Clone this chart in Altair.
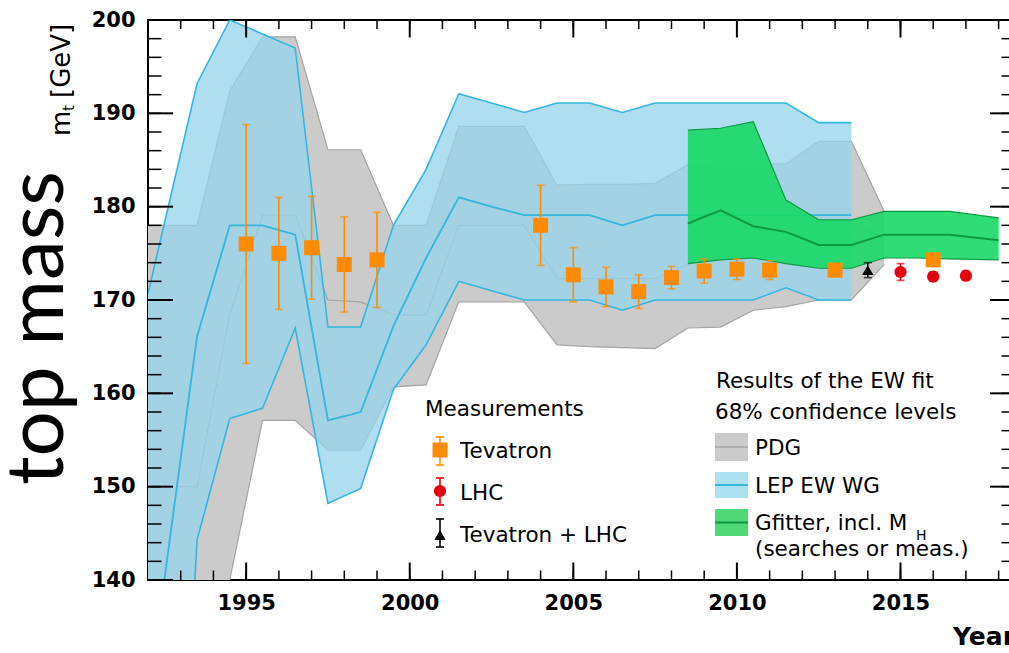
import altair as alt
import pandas as pd

# ---------------- EW fit bands (68% CL): year, upper, central, lower ----------------
pdg_year = [1992, 1993.5, 1994.5, 1995.5, 1996.5, 1997.5, 1998.5, 1999.5, 2000.5, 2001.5, 2002.5,
            2003.5, 2004.5, 2005.5, 2006.5, 2007.5, 2008.5, 2009.5, 2010.5, 2011.5, 2012.5, 2013.5, 2014.5]
pdg_hi = [178.0, 178.0, 192.4, 198.2, 198.2, 186.1, 186.1, 178.0, 178.0, 188.6, 188.6,
          188.6, 182.3, 182.4, 182.4, 182.5, 184.5, 184.6, 184.6, 184.6, 187.0, 187.0, 179.5]
pdg_mid = [150.0, 150.0, 168.5, 179.1, 179.1, 170.0, 169.8, 168.4, 168.4, 178.0, 178.0,
           178.0, 172.3, 172.3, 172.3, 172.3, 173.8, 175.0, 176.1, 177.3, 178.4, 178.2, 176.6]
pdg_lo = [120.0, 125.0, 140.0, 157.1, 157.1, 153.9, 153.9, 160.7, 160.9, 169.8, 169.8,
          169.8, 165.2, 165.0, 164.9, 164.8, 167.0, 167.1, 168.9, 169.3, 170.0, 170.0, 173.8]

lep_year = [1992, 1992.5, 1993.5, 1994.5, 1995.5, 1996.5, 1997.5, 1998.5, 1999.5, 2000.5, 2001.5,
            2002.5, 2003.5, 2004.5, 2005.5, 2006.5, 2007.5, 2008.5, 2009.5, 2010.5, 2011.5, 2012.5, 2013.5]
lep_hi = [170.7, 178.2, 193.2, 200.0, 198.5, 197.0, 167.1, 167.1, 178.0, 184.0, 192.1,
          191.1, 190.1, 191.1, 191.1, 190.1, 191.1, 191.1, 191.1, 191.1, 191.1, 189.0, 189.0]
lep_mid = [127.0, 140.0, 166.1, 178.0, 178.0, 177.0, 157.1, 158.0, 167.2, 174.5, 181.0,
           180.0, 179.1, 179.1, 179.1, 178.0, 179.1, 179.1, 179.1, 179.1, 179.1, 179.1, 179.1]
lep_lo = [60.0, 80.0, 144.3, 157.3, 158.4, 167.0, 148.2, 149.8, 160.4, 165.2, 172.0,
          171.0, 170.0, 170.0, 170.0, 168.9, 170.0, 170.0, 170.0, 170.0, 171.3, 170.0, 170.0]

gf_year = [2008.5, 2009.5, 2010.5, 2011.5, 2012.5, 2013.5, 2014.5, 2015.5, 2016.5, 2018.0]
gf_hi = [188.2, 188.4, 189.1, 180.7, 178.6, 178.6, 179.5, 179.5, 179.5, 178.8]
gf_mid = [178.2, 179.6, 177.9, 177.3, 175.9, 175.9, 177.0, 177.0, 177.0, 176.4]
gf_lo = [173.9, 174.3, 174.5, 173.9, 173.4, 173.4, 174.5, 174.5, 174.4, 174.3]

# ---------------- direct measurements ----------------
tev_year = [1995, 1996, 1997, 1998, 1999, 2004, 2005, 2006, 2007, 2008, 2009, 2010, 2011, 2013, 2016]
tev_mass = [176.0, 175.0, 175.6, 173.8, 174.3, 178.0, 172.7, 171.4, 170.9, 172.4, 173.1, 173.3, 173.2, 173.2, 174.3]
tev_err = [12.8, 6.0, 5.5, 5.1, 5.1, 4.3, 2.9, 2.1, 1.8, 1.2, 1.3, 1.1, 1.0, 0.7, 0.7]

lhc_year = [2015, 2016, 2017]
lhc_mass = [173.0, 172.5, 172.6]
lhc_err = [0.9, 0.5, 0.5]

comb_year = [2014]
comb_mass = [173.2]
comb_err = [0.8]

year_ticks = [1995, 2000, 2005, 2010, 2015]
year_minor = list(range(1993, 2019))
mass_ticks = [140, 150, 160, 170, 180, 190, 200]
mass_minor = list(range(142, 200, 2))

# ---------------- styling ----------------
LEFT, TOP, W, H = 148, 20, 867, 560
X_DOM, Y_DOM = (1992, 2018.5), (140, 200)
PX_PER_YEAR = W / (X_DOM[1] - X_DOM[0])
PX_PER_GEV = H / (Y_DOM[1] - Y_DOM[0])
ORANGE = "#ff8c00"
RED = "#e3000f"
GRAY_FILL, GRAY_LINE = "#cbcbcb", "#a4a4a4"
BLUE_FILL, BLUE_LINE = "#94d3eb", "#36b5de"
GREEN_FILL, GREEN_LINE = "#18d866", "#0c9a40"
FONT = "DejaVu Sans"

xs = alt.Scale(domain=list(X_DOM), nice=False, zero=False)
ys = alt.Scale(domain=list(Y_DOM), nice=False, zero=False)


def X(f):
    return alt.X(f"{f}:Q", scale=xs, axis=None)


def Y(f):
    return alt.Y(f"{f}:Q", scale=ys, axis=None)


def band(year, hi, mid, lo):
    return pd.DataFrame({"year": year, "hi": hi, "mid": mid, "lo": lo})


def meas(year, mass, err):
    return pd.DataFrame({"year": year, "mass": mass,
                         "lo": [m - e for m, e in zip(mass, err)],
                         "hi": [m + e for m, e in zip(mass, err)]})


pdg = band(pdg_year, pdg_hi, pdg_mid, pdg_lo)
lep = band(lep_year, lep_hi, lep_mid, lep_lo)
gf = band(gf_year, gf_hi, gf_mid, gf_lo)
tev = meas(tev_year, tev_mass, tev_err)
lhc = meas(lhc_year, lhc_mass, lhc_err)
comb = meas(comb_year, comb_mass, comb_err)
one = pd.DataFrame({"k": [0]})


def band_layers(df, fill, opacity, line, edge_w, mid_w):
    area = alt.Chart(df).mark_area(color=fill, opacity=opacity, clip=True).encode(
        x=X("year"), y=Y("lo"), y2="hi")
    lines = [alt.Chart(df).mark_line(color=line, strokeWidth=w, clip=True).encode(x=X("year"), y=Y(f))
             for f, w in (("hi", edge_w), ("lo", edge_w), ("mid", mid_w))]
    return [area] + lines


def meas_layers(df, color, shape, size):
    bar = alt.Chart(df).mark_rule(color=color, strokeWidth=1.6).encode(x=X("year"), y=Y("lo"), y2="hi")
    caps = [alt.Chart(df).mark_tick(orient="horizontal", size=8, thickness=1.6, color=color).encode(
        x=X("year"), y=Y(f)) for f in ("lo", "hi")]
    pt = alt.Chart(df).mark_point(shape=shape, size=size, filled=True, opacity=1, color=color).encode(
        x=X("year"), y=Y("mass"))
    return [bar] + caps + [pt]


# ---------------- axis labels ----------------
anchor = pd.DataFrame({"year": [year_ticks[0]], "m": [mass_ticks[0]]})
label_axis = dict(ticks=False, domain=False, grid=False, title=None, labelFont=FONT,
                  labelFontWeight="bold", labelFontSize=21, labelColor="black",
                  labelFlush=False, labelOverlap=False, format="d")
axis_labels = alt.Chart(anchor).mark_point(opacity=0).encode(
    x=alt.X("year:Q", scale=xs, axis=alt.Axis(orient="bottom", values=year_ticks, labelPadding=12, **label_axis)),
    y=alt.Y("m:Q", scale=ys, axis=alt.Axis(orient="left", values=mass_ticks, labelPadding=13, **label_axis)),
)


# ---------------- inward tick marks on all four frame edges ----------------
def yticks(values, length_px, width, right=False):
    span = length_px / PX_PER_YEAR
    a, b = (X_DOM[1] - span, X_DOM[1]) if right else (X_DOM[0], X_DOM[0] + span)
    df = pd.DataFrame({"m": values, "a": [float(a)] * len(values), "b": [float(b)] * len(values)})
    return alt.Chart(df).mark_rule(color="black", strokeWidth=width).encode(
        y=Y("m"), x=X("a"), x2="b")


def xticks(values, length_px, width, top=False):
    span = length_px / PX_PER_GEV
    a, b = (Y_DOM[1] - span, Y_DOM[1]) if top else (Y_DOM[0], Y_DOM[0] + span)
    df = pd.DataFrame({"year": values, "a": [float(a)] * len(values), "b": [float(b)] * len(values)})
    return alt.Chart(df).mark_rule(color="black", strokeWidth=width).encode(
        x=X("year"), y=Y("a"), y2="b")


ticks = [
    yticks(mass_minor, 13.5, 1.5), yticks(mass_ticks, 25, 2),
    yticks(mass_minor, 13.5, 1.5, right=True), yticks(mass_ticks, 25, 2, right=True),
    xticks(year_minor, 9.5, 1.5), xticks(year_ticks, 17.5, 2),
    xticks(year_minor, 9, 1.5, top=True), xticks(year_ticks, 17.5, 2, top=True),
]


# ---------------- annotations (pixel positions inside the plot frame) ----------------
def text(s, x, y, size=21.5, weight="normal", angle=0, font=FONT, align="left"):
    return alt.Chart(one).mark_text(font=font, fontSize=size, fontWeight=weight, angle=angle,
                                    align=align, baseline="alphabetic", color="black").encode(
        x=alt.value(x - LEFT), y=alt.value(y - TOP), text=alt.value(s))


def vbar(x, y1, y2, color):
    bar = alt.Chart(one).mark_rule(color=color, strokeWidth=1.6).encode(
        x=alt.value(x - LEFT), y=alt.value(y1 - TOP), y2=alt.value(y2 - TOP))
    caps = [alt.Chart(one).mark_rule(color=color, strokeWidth=1.6).encode(
        x=alt.value(x - 4 - LEFT), x2=alt.value(x + 4 - LEFT), y=alt.value(yy - TOP)) for yy in (y1, y2)]
    return [bar] + caps


def marker(x, y, shape, size, color):
    return alt.Chart(one).mark_point(shape=shape, size=size, filled=True, opacity=1, color=color).encode(
        x=alt.value(x - LEFT), y=alt.value(y - TOP))


def box(y1, y2, fill, line, lw):
    r = alt.Chart(one).mark_rect(color=fill).encode(
        x=alt.value(715 - LEFT), x2=alt.value(748 - LEFT), y=alt.value(y1 - TOP), y2=alt.value(y2 - TOP))
    l = alt.Chart(one).mark_rule(color=line, strokeWidth=lw).encode(
        x=alt.value(715 - LEFT), x2=alt.value(748 - LEFT), y=alt.value((y1 + y2) / 2 - TOP))
    return [r, l]


notes = [
    text("top mass", 63, 328, size=80, angle=270, font="Lato", align="center"),
    text("m", 70, 136, size=26, angle=270),
    text("t", 74, 111, size=15, angle=270),
    text("[GeV]", 70, 98, size=26, angle=270),
    text("Year", 953, 645, size=25, weight="bold"),
    text("Measurements", 425, 416),
    text("Tevatron", 460, 458),
    text("LHC", 460, 500),
    text("Tevatron + LHC", 460, 541.5),
    text("Results of the EW fit", 716, 388),
    text("68% confidence levels", 715, 419),
    text("PDG", 755, 455),
    text("LEP EW WG", 755, 492.5),
    text("Gfitter, incl. M", 755, 530),
    text("H", 916, 540, size=14),
    text("(searches or meas.)", 755, 555.5),
]
notes += vbar(440, 437, 465, ORANGE) + [marker(440, 450, "square", 225, ORANGE)]
notes += vbar(440, 478, 505, RED) + [marker(440, 491, "circle", 150, RED)]
notes += vbar(440, 519, 547, "black") + [marker(440, 535, "triangle-up", 130, "black")]
notes += box(433, 461, GRAY_FILL, GRAY_LINE, 1.5)
notes += box(472, 498, "#ade1f0", BLUE_LINE, 2)
notes += box(509, 536, "#4fd976", GREEN_LINE, 2)

layers = (
    band_layers(pdg, GRAY_FILL, 1.0, GRAY_LINE, 1.2, 1.2)
    + band_layers(lep, BLUE_FILL, 0.76, BLUE_LINE, 1.6, 1.8)
    + band_layers(gf, GREEN_FILL, 0.9, GREEN_LINE, 1.2, 2.0)
    + meas_layers(tev, ORANGE, "square", 225)
    + meas_layers(comb, "black", "triangle-up", 130)
    + meas_layers(lhc, RED, "circle", 150)
    + ticks
    + [axis_labels]
    + notes
)

chart = alt.layer(*layers).resolve_axis(x="independent", y="independent").properties(
    width=W, height=H,
    autosize=alt.AutoSizeParams(type="none"),
    padding={"left": LEFT, "top": TOP, "right": 1009 - LEFT - W, "bottom": 653 - TOP - H},
    background="white",
).configure_view(stroke="black", strokeWidth=2)

chart.save("out.html", embed_options={"renderer": "svg", "actions": False})
